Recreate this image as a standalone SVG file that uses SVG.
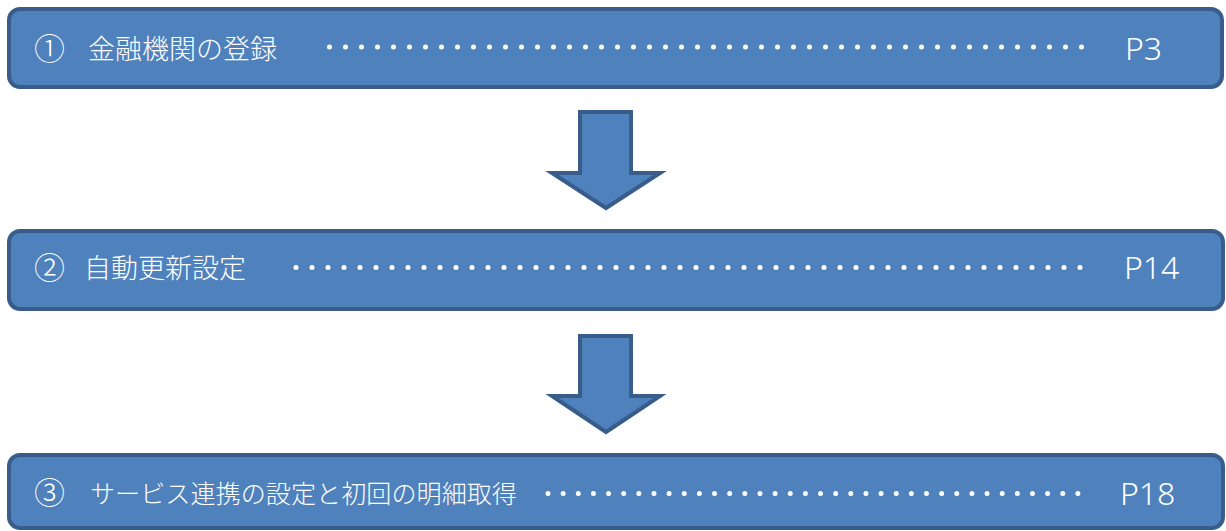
<svg xmlns="http://www.w3.org/2000/svg" width="1226" height="531" viewBox="0 0 1226 531">
<style>
.box{fill:#4f81bd;stroke:#385d8a;stroke-width:4}
.arrow{fill:#4f81bd;stroke:#385d8a;stroke-width:4;stroke-linejoin:miter}
.jp{font-family:"Noto Sans CJK JP","Noto Sans",sans-serif;fill:#ffffff;font-weight:300}
.num{font-family:"Noto Sans CJK JP","Noto Sans",sans-serif;fill:#ffffff;font-weight:300;font-size:31px}
.pg{font-family:"Noto Sans","Noto Sans CJK JP",sans-serif;fill:#ffffff;font-size:32px;font-weight:300}
.dots{stroke:#ffffff;stroke-width:5;stroke-linecap:round;fill:none}
</style>
<rect width="1226" height="531" fill="#ffffff"/>
<g id="step1">
<rect class="box" x="9" y="9" width="1213" height="78" rx="11"/>
<text class="num" x="34" y="60">①</text>
<text class="jp" x="88" y="59" font-size="27">金融機関の登録</text>
<line class="dots" x1="329.5" y1="47" x2="1097.5" y2="47" stroke-dasharray="0 16"/>
<text class="pg" x="1125" y="60">P3</text>
</g>
<g id="step2">
<rect class="box" x="9" y="231" width="1214" height="78" rx="11"/>
<text class="num" x="34" y="279">②</text>
<text class="jp" x="84" y="278" font-size="27">自動更新設定</text>
<line class="dots" x1="296" y1="267.5" x2="1096" y2="267.5" stroke-dasharray="0 16"/>
<text class="pg" x="1124" y="279">P14</text>
</g>
<g id="step3">
<rect class="box" x="9" y="455" width="1214" height="73" rx="11"/>
<text class="num" x="34" y="504">③</text>
<text class="jp" x="90" y="503" font-size="25" textLength="427" lengthAdjust="spacingAndGlyphs">サービス連携の設定と初回の明細取得</text>
<line class="dots" x1="548" y1="493.5" x2="1093" y2="493.5" stroke-dasharray="0 15.14"/>
<text class="pg" x="1120" y="505">P18</text>
</g>
<g id="connectors">
<polygon class="arrow" points="580,112 631,112 631,173 660,173 606,208 552,173 580,173"/>
<polygon class="arrow" points="580,336 631,336 631,396 660,396 606,432 552,396 580,396"/>
</g>
</svg>
